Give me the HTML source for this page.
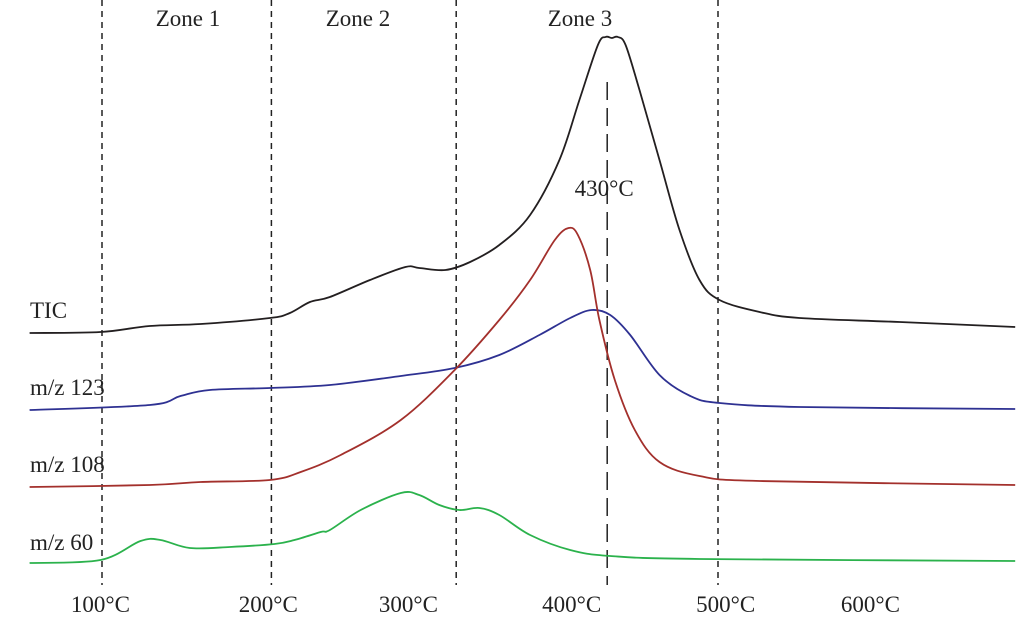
<!DOCTYPE html>
<html><head><meta charset="utf-8"><style>
html,body{margin:0;padding:0;background:#fff;}
svg{display:block;font-family:"Liberation Serif",serif;}
</style></head><body>
<svg id="chart" width="1024" height="628" viewBox="0 0 1024 628">
<g id="guides"></g>
<g id="series"></g>
<g id="labels"></g>
</svg>
<script>
const tempTIC=[53,99,131,164,209,222,235,248,274,297,306,323,339,358,378,397,410,422,427,431,435,440,449,462,475,488,501,527,553,618,693];
const valTIC=[49.4,49.6,50.8,51.2,52.4,53.4,55.6,56.6,60,62.6,62.4,62,63.6,67,73,84,96,107,108.6,108.4,108.6,107,98,84,70,60,56,53.6,52.4,51.6,50.6];
const temp123=[53,131,151,170,209,248,294,329,358,384,404,418,430,443,462,482,501,553,693];
const val123=[34,35,36.8,38,38.4,39,40.8,42.4,45,49,52.4,54,53,49,41,36.8,35.4,34.6,34.2];
const temp108=[53,131,164,209,229,255,294,329,358,378,394,403,409,417,423,433,446,462,488,527,693];
const val108=[18.6,19,19.6,20,21.6,25,32,42,52,60,68,70.4,69,62,52,40,30,23.6,20.8,19.8,19];
const temp60=[53,99,125,138,157,183,212,225,242,248,268,294,306,319,332,345,358,378,404,430,488,693];
const val60=[3.4,4,7.8,8,6.4,6.6,7.2,8,9.6,10,14,17.4,17,15,14,14.4,13,9,6,4.8,4.2,3.8];
const tickTemps=[99,208,299,405,505,599];
const tickLabels=["100°C","200°C","300°C","400°C","500°C","600°C"];
const zoneBounds=[100,210,330,500];
const zoneNames=["Zone 1","Zone 2","Zone 3"];
const peakTemp=[430];
const seriesNames=["TIC","m/z 123","m/z 108","m/z 60"];

const NS="http://www.w3.org/2000/svg";
const xS=t=>102+(t-100)*1.54;
const yS=v=>580-v*5;
function mk(tag,attrs,parent){const e=document.createElementNS(NS,tag);for(const k in attrs)e.setAttribute(k,attrs[k]);parent.appendChild(e);return e;}
function pathFrom(ts,vs){
  const p=ts.map((t,i)=>[xS(t),yS(vs[i])]);
  let d="M"+p[0][0].toFixed(1)+","+p[0][1].toFixed(1);
  for(let i=0;i<p.length-1;i++){
    const p0=p[Math.max(0,i-1)],p1=p[i],p2=p[i+1],p3=p[Math.min(p.length-1,i+2)];
    const c1=[p1[0]+(p2[0]-p0[0])/6,p1[1]+(p2[1]-p0[1])/6];
    const c2=[p2[0]-(p3[0]-p1[0])/6,p2[1]-(p3[1]-p1[1])/6];
    d+=" C"+c1.map(n=>n.toFixed(1)).join(",")+" "+c2.map(n=>n.toFixed(1)).join(",")+" "+p2.map(n=>n.toFixed(1)).join(",");
  }
  return d;
}
const G=document.getElementById("guides"),S=document.getElementById("series"),L=document.getElementById("labels");
zoneBounds.forEach(t=>{
  const l=mk("line",{x1:xS(t),x2:xS(t),y1:0,y2:585,stroke:"#222","stroke-width":1.5,"stroke-dasharray":"6,5"},G);
  
  
});
peakTemp.forEach(t=>{
  const l=mk("line",{x1:xS(t)-3,x2:xS(t)-3,y1:82,y2:585,stroke:"#222","stroke-width":1.5,"stroke-dasharray":"18,8"},G);
  
  
  const tx=mk("text",{x:xS(t)-6,y:196,"font-size":23,"text-anchor":"middle",fill:"#222"},L);
  tx.textContent=t+"°C";
  
  
});
zoneNames.forEach((n,i)=>{
  const cx=[188,358,580][i];
  const tx=mk("text",{x:cx,y:26,"font-size":23,"text-anchor":"middle",fill:"#222"},L);
  tx.textContent=n;
  
  
});
const sets=[[tempTIC,valTIC,"#231f20",318],[temp123,val123,"#2e3192",395],[temp108,val108,"#a3302c",472],[temp60,val60,"#2bb24c",550]];
sets.forEach((s,i)=>{
  const p=mk("path",{d:pathFrom(s[0],s[1]),fill:"none",stroke:s[2],"stroke-width":1.8},S);
  
  
  const tx=mk("text",{x:30,y:s[3],"font-size":23,fill:"#222"},L);
  tx.textContent=seriesNames[i];
  
  
});
tickTemps.forEach((t,i)=>{
  const tx=mk("text",{x:xS(t),y:612,"font-size":23,"text-anchor":"middle",fill:"#222"},L);
  tx.textContent=tickLabels[i];
  
  
});
</script>
</body></html>
